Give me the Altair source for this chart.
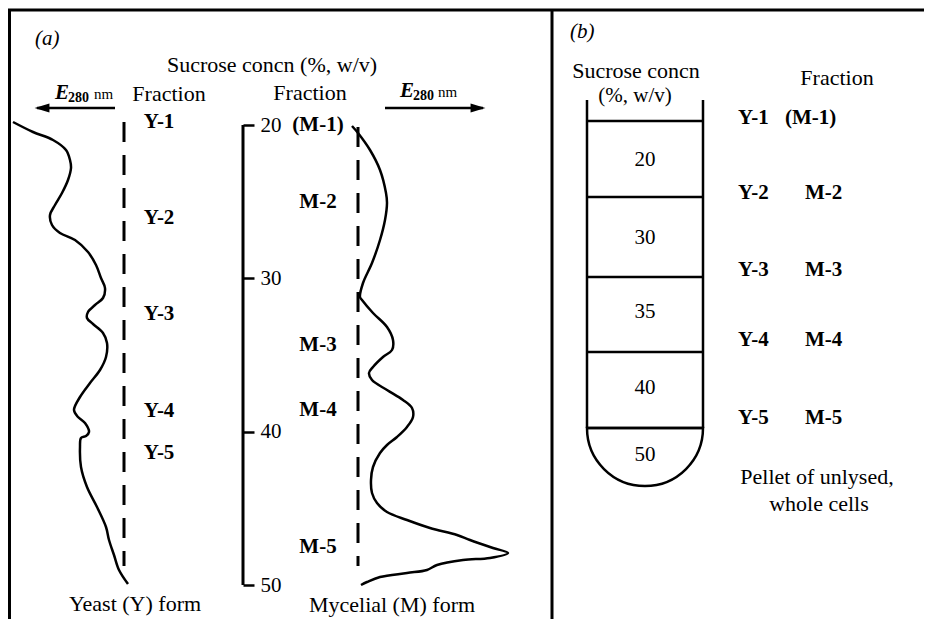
import math
import altair as alt
import pandas as pd

FONT = "Liberation Serif"
W, H = 916, 611
XD = [8, 8 + W]
YD = [8, 8 + H]
# sucrose scale of panel (a): 20 % at 125 px, 50 % at 585 px
PX_PER_PCT = (585 - 125) / 30.0
SUC_DOMAIN = [20 + (YD[0] - 125) / PX_PER_PCT, 20 + (YD[1] - 125) / PX_PER_PCT]

# ---------------- data ----------------
# Yeast (Y) form E280 trace (drawn leftwards from dashed baseline)
yeast_x = [13, 33, 53, 66, 70, 71, 68, 62, 55, 50, 52, 60, 75, 88, 96, 101, 105, 103, 95, 88,
           87, 93, 103, 107, 106, 100, 90, 80, 74, 78, 85, 89, 86, 81, 80, 81, 87, 97, 106, 109,
           114, 119, 128]
yeast_y = [122, 132, 140, 150, 160, 168, 180, 193, 205, 215, 225, 233, 240, 252, 265, 278, 288, 298, 305, 312,
           318, 324, 333, 343, 357, 370, 383, 397, 410, 417, 423, 432, 436, 438, 447, 467, 487, 507, 527, 540,
           555, 570, 584]
# Mycelial (M) form E280 trace (drawn rightwards from dashed baseline)
myc_x = [352, 358, 370, 380, 386, 387, 385, 380, 372, 363, 360, 362, 373, 387, 393, 392, 383, 373, 369, 372,
         387, 403, 412, 413, 407, 397, 387, 380, 373, 371, 372, 377, 387, 407, 430, 457, 470, 493, 508, 490,
         463, 437, 427, 407, 380, 367, 361]
myc_y = [126, 133, 150, 170, 193, 203, 220, 240, 263, 283, 297, 300, 313, 327, 340, 350, 357, 367, 373, 380,
         390, 400, 408, 417, 427, 437, 445, 453, 467, 480, 493, 503, 512, 520, 528, 535, 540, 548, 553, 558,
         560, 565, 570, 573, 577, 582, 585]

sucrose_ticks = [20, 30, 40, 50]

yeast_labels = ["Y-1", "Y-2", "Y-3", "Y-4", "Y-5"]
yeast_label_y = [122, 218, 314, 411, 453]
myc_labels = ["(M-1)", "M-2", "M-3", "M-4", "M-5"]
myc_label_y = [125, 202, 345, 410, 547]

tube_labels = ["20", "30", "35", "40", "50"]
tube_label_y = [160, 238, 312, 388, 455]
tube_bounds = [121, 197, 277, 352, 428]
b_yeast = ["Y-1", "Y-2", "Y-3", "Y-4", "Y-5"]
b_myc = ["(M-1)", "M-2", "M-3", "M-4", "M-5"]
b_row_y = [118, 193, 270, 340, 418]


# ---------------- helpers ----------------
def xs():
    return alt.Scale(domain=XD, nice=False, zero=False)


def ys():
    return alt.Scale(domain=YD, reverse=True, nice=False, zero=False)


def X(f="x"):
    return alt.X(f"{f}:Q", scale=xs(), axis=None)


def Y(f="y"):
    return alt.Y(f"{f}:Q", scale=ys(), axis=None)


def segs(rows, **mk):
    df = pd.DataFrame(rows, columns=["x", "y", "x2", "y2"])
    mk.setdefault("color", "black")
    return alt.Chart(df).mark_rule(**mk).encode(x=X(), y=Y(), x2="x2:Q", y2="y2:Q")


def txt(labels, xpos, ypos, size=22, weight="normal", style="normal", align="center",
        baseline="alphabetic"):
    df = pd.DataFrame({"t": labels, "x": xpos, "y": ypos})
    return alt.Chart(df).mark_text(font=FONT, fontSize=size, fontWeight=weight, fontStyle=style,
                                   align=align, baseline=baseline, color="black").encode(
        x=X(), y=Y(), text="t:N")


def curve(xv, yv):
    df = pd.DataFrame({"x": xv, "y": yv, "i": range(len(xv))})
    return alt.Chart(df).mark_line(color="black", strokeWidth=2.5, interpolate="catmull-rom").encode(
        x=X(), y=Y(), order="i:Q")


layers = []

# frame
layers.append(segs([[8, 10, 8 + W, 10], [9.5, 10, 9.5, 8 + H], [552, 10, 552, 8 + H]], strokeWidth=3))

# ---------------- panel (a) ----------------
layers.append(txt(["(a)"], [35], [45], size=21, style="italic", align="left"))
layers.append(txt(["Sucrose concn  (%, w/v)"], [272], [72]))
layers.append(txt(["Fraction", "Fraction"], [169, 310], [101, 100]))

# E280 nm labels
layers.append(txt(["E", "E"], [55, 400], [99, 97], size=21, weight="bold", style="italic", align="left"))
layers.append(txt(["280", "280"], [68, 413], [102, 100], size=14, weight="bold", align="left"))
layers.append(txt(["nm", "nm"], [94, 438], [99, 97], size=15, align="left"))
# arrows
layers.append(segs([[37, 108, 115, 108], [385, 108, 483, 108]], strokeWidth=2.5))
heads = pd.DataFrame({"x": [35, 485], "y": [108, 108],
                      "s": ["M-1,0L1,-0.6L1,0.6Z", "M1,0L-1,-0.6L-1,0.6Z"]})
for i in range(2):
    layers.append(alt.Chart(heads.iloc[[i]]).mark_point(
        shape=heads["s"][i], size=220, filled=True, color="black", opacity=1,
        xOffset=(7 if i == 0 else -7)).encode(x=X(), y=Y()))

# dashed baselines
layers.append(segs([[124, 122, 124, 566], [358, 127, 358, 566]], strokeWidth=3, strokeDash=[20, 13]))

# traces
layers.append(curve(yeast_x, yeast_y))
layers.append(curve(myc_x, myc_y))

# fraction labels
layers.append(txt(yeast_labels, [159] * 5, yeast_label_y, size=21, weight="bold", baseline="middle"))
layers.append(txt(myc_labels, [318] * 5, myc_label_y, size=21, weight="bold", baseline="middle"))

layers.append(txt(["Yeast (Y) form", "Mycelial (M) form"], [135, 392], [611, 612]))

# ---------------- panel (b) ----------------
layers.append(txt(["(b)"], [570], [38], size=21, style="italic", align="left"))
layers.append(txt(["Sucrose concn"], [636], [78]))
layers.append(txt(["(%, w/v)"], [635], [102], size=21))
layers.append(txt(["Fraction"], [837], [85]))

# tube bottom (semicircle)
layers.append(alt.Chart(pd.DataFrame({"x": [645], "y": [tube_bounds[-1]]})).mark_arc(
    theta=math.pi / 2, theta2=3 * math.pi / 2, radius=58, fill="white", stroke="black",
    strokeWidth=2.5).encode(x=X(), y=Y()))
# tube walls and layer boundaries
tube_rows = [[587, 100, 587, tube_bounds[-1]], [703, 100, 703, tube_bounds[-1]]]
tube_rows += [[587, b, 703, b] for b in tube_bounds]
layers.append(segs(tube_rows, strokeWidth=2.5))
layers.append(txt(tube_labels, [645] * 5, tube_label_y, size=21, baseline="middle"))

layers.append(txt(b_yeast, [738] * 5, b_row_y, size=21, weight="bold", align="left", baseline="middle"))
layers.append(txt(b_myc, [785] + [805] * 4, b_row_y, size=21, weight="bold", align="left",
                  baseline="middle"))
layers.append(txt(["Pellet of unlysed,", "whole cells"], [817, 819], [484, 511]))

# ---------------- sucrose scale (real axis) ----------------
scale_df = pd.DataFrame({"x": [243], "y": [sucrose_ticks[0]], "y2": [sucrose_ticks[-1]]})
layers.append(alt.Chart(scale_df).mark_rule(color="black", strokeWidth=3).encode(
    x=X(),
    y=alt.Y("y:Q", scale=alt.Scale(domain=SUC_DOMAIN, reverse=True, nice=False, zero=False),
            axis=alt.Axis(orient="right", offset=(243 - 8) - W, values=sucrose_ticks, domain=False,
                          grid=False, ticks=True, tickSize=11, tickWidth=2.5, tickColor="black",
                          labelFont=FONT, labelFontSize=21, labelColor="black", labelPadding=6,
                          labelFlush=False, labelOverlap=False, format="d", title=None)),
    y2="y2:Q"))

chart = alt.layer(*layers).resolve_scale(y="independent").properties(
    width=W, height=H, padding=0, autosize=alt.AutoSizeParams(type="none"),
    background="white",
).configure_view(stroke=None)

chart.save("out.html", embed_options={"renderer": "svg", "actions": False})
